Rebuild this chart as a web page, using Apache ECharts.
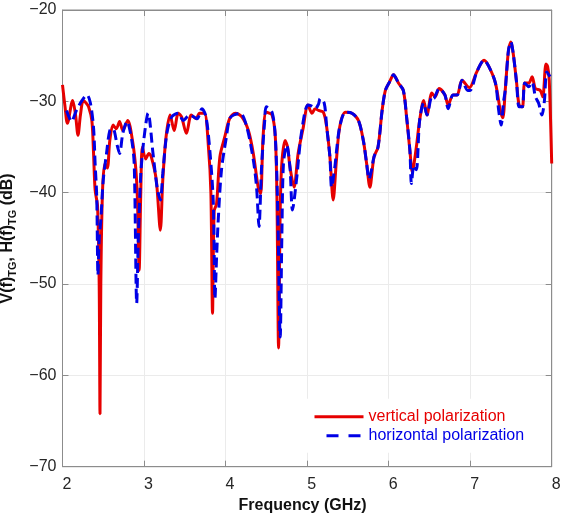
<!DOCTYPE html>
<html>
<head>
<meta charset="utf-8">
<script src="https://cdn.jsdelivr.net/npm/echarts@6/dist/echarts.min.js"></script>
<style>
  html, body { margin: 0; padding: 0; background: #fff; }
  #chart { width: 561px; height: 521px; }
</style>
</head>
<body>
<div id="chart"></div>
<script>
// Frequency response of the target, vertical polarization (GHz, dB)
const vFreq = [2.00, 2.03, 2.06, 2.125, 2.16, 2.19, 2.22, 2.255, 2.29, 2.32, 2.36, 2.38, 2.40, 2.43, 2.45, 2.46, 2.47, 2.49,
  2.52, 2.55, 2.58, 2.62, 2.66, 2.70, 2.74, 2.80, 2.86, 2.90, 2.92, 2.94, 2.96, 2.98, 3.02, 3.06, 3.09, 3.15, 3.20, 3.23,
  3.27, 3.32, 3.37, 3.42, 3.46, 3.52, 3.58, 3.64, 3.68, 3.74, 3.79, 3.82, 3.84, 3.86, 3.89, 3.93, 3.99, 4.05, 4.12, 4.20,
  4.28, 4.34, 4.40, 4.43, 4.46, 4.50, 4.57, 4.61, 4.63, 4.65, 4.67, 4.69, 4.73, 4.76, 4.79, 4.84, 4.89, 4.95, 5.01, 5.06,
  5.10, 5.14, 5.20, 5.24, 5.28, 5.32, 5.36, 5.40, 5.47, 5.55, 5.63, 5.69, 5.73, 5.77, 5.82, 5.87, 5.92, 5.96, 6.01, 6.06,
  6.12, 6.18, 6.22, 6.26, 6.29, 6.34, 6.38, 6.43, 6.47, 6.53, 6.57, 6.62, 6.69, 6.73, 6.79, 6.84, 6.90, 6.99, 7.08, 7.17,
  7.23, 7.31, 7.37, 7.40, 7.43, 7.47, 7.50, 7.53, 7.57, 7.60, 7.64, 7.67, 7.72, 7.76, 7.80, 7.86, 7.89, 7.93, 7.95, 7.97, 8.00];
const vDb = [-28.2, -30.5, -32.4, -29.9, -31.5, -33.7, -31.5, -29.9, -30.2, -30.6, -32.1, -35.5, -39.7, -41.5, -50.0, -64.2, -50.0, -40.0,
  -36.8, -37.3, -34.3, -32.6, -33.0, -32.2, -33.2, -32.1, -34.4, -37.5, -41.0, -48.5, -40.0, -35.0, -36.3, -35.7, -36.1, -38.6, -44.1, -38.6,
  -33.9, -31.5, -33.2, -31.3, -31.7, -33.5, -31.5, -31.9, -31.3, -31.3, -35.0, -40.0, -53.2, -42.0, -41.2, -36.1, -33.9, -31.9, -31.3, -31.7,
  -33.2, -35.7, -39.4, -40.1, -33.9, -31.2, -31.5, -33.9, -40.5, -57.0, -42.0, -36.8, -34.3, -35.0, -37.2, -39.4, -35.7, -33.0, -30.4, -31.3,
  -30.8, -31.0, -31.2, -32.8, -36.1, -40.8, -36.4, -32.8, -31.2, -31.3, -32.1, -34.3, -36.8, -39.4, -36.1, -35.0, -31.0, -28.8, -27.9, -27.1,
  -28.0, -28.8, -31.7, -35.3, -37.7, -35.0, -32.1, -29.9, -31.5, -29.1, -29.5, -28.6, -29.3, -30.4, -29.3, -29.3, -27.7, -28.5, -26.8, -25.5,
  -26.2, -28.0, -31.0, -31.8, -28.8, -24.4, -23.5, -24.9, -28.0, -30.4, -30.6, -28.0, -28.0, -27.3, -28.6, -28.8, -29.5, -25.9, -26.2, -27.7, -36.8];

// Frequency response of the target, horizontal polarization (GHz, dB)
const hFreq = [2.05, 2.07, 2.11, 2.17, 2.24, 2.30, 2.34, 2.38, 2.40, 2.42, 2.435, 2.45, 2.47, 2.50, 2.54, 2.58, 2.62, 2.67,
  2.70, 2.74, 2.79, 2.85, 2.88, 2.91, 2.93, 2.96, 3.00, 3.05, 3.11, 3.16, 3.20, 3.23, 3.28, 3.34, 3.42, 3.48, 3.56, 3.65,
  3.71, 3.76, 3.81, 3.85, 3.87, 3.89, 3.91, 3.95, 4.01, 4.05, 4.10, 4.18, 4.26, 4.34, 4.38, 4.41, 4.44, 4.48, 4.50, 4.57,
  4.61, 4.64, 4.67, 4.69, 4.71, 4.75, 4.79, 4.82, 4.87, 4.93, 5.01, 5.05, 5.10, 5.14, 5.16, 5.21, 5.24, 5.28, 5.30, 5.34,
  5.36, 5.40, 5.47, 5.55, 5.63, 5.69, 5.73, 5.76, 5.79, 5.82, 5.87, 5.92, 5.96, 6.01, 6.06, 6.12, 6.18, 6.22, 6.26, 6.28,
  6.31, 6.34, 6.38, 6.43, 6.47, 6.53, 6.55, 6.62, 6.69, 6.73, 6.79, 6.84, 6.90, 6.97, 7.00, 7.08, 7.17, 7.23, 7.31, 7.35,
  7.38, 7.41, 7.43, 7.47, 7.50, 7.53, 7.57, 7.60, 7.64, 7.67, 7.72, 7.76, 7.80, 7.84, 7.88, 7.91, 7.94, 7.98];
const hDb = [-31.0, -31.5, -32.2, -31.0, -29.9, -29.3, -30.1, -32.8, -36.8, -40.5, -49.0, -45.0, -43.0, -38.6, -35.7, -33.2, -33.0, -34.8,
  -35.7, -33.5, -32.2, -34.3, -37.0, -52.1, -45.0, -38.0, -34.0, -31.3, -35.7, -39.4, -40.8, -37.9, -33.5, -31.7, -31.3, -32.1, -31.5, -31.9,
  -30.8, -31.7, -35.7, -41.2, -51.6, -47.0, -43.0, -37.5, -33.9, -31.9, -31.5, -31.3, -32.8, -36.4, -39.4, -43.7, -37.5, -32.1, -30.6, -31.2,
  -33.9, -42.0, -55.8, -45.0, -36.8, -34.8, -37.2, -41.9, -38.6, -33.5, -30.4, -30.5, -30.8, -30.3, -29.7, -30.2, -32.8, -36.1, -39.4, -37.2,
  -35.5, -32.8, -31.2, -31.3, -32.1, -34.3, -36.8, -38.5, -37.5, -36.1, -35.0, -31.0, -28.8, -27.9, -27.1, -28.0, -28.8, -31.7, -35.3, -39.0,
  -37.0, -37.5, -32.1, -30.2, -31.5, -29.5, -29.7, -28.6, -29.3, -30.8, -29.3, -29.3, -27.7, -28.8, -28.8, -26.8, -25.5, -26.2, -28.0, -31.0,
  -32.6, -30.0, -28.8, -24.4, -23.5, -24.9, -28.0, -30.6, -30.6, -28.0, -28.4, -27.9, -29.5, -30.2, -31.5, -30.0, -26.8, -27.3];

// Axis ranges and tick spacing
const freqRange = [2, 8];
const dbRange = [-70, -20];
const freqStep = 1;
const dbStep = 10;

const seriesNames = ['vertical polarization', 'horizontal polarization'];
const RED = '#e60000';
const BLUE = '#0000e6';
const FONT = '"Liberation Sans", Arial, Helvetica, sans-serif';

const pairs = (xs, ys) => xs.map((x, i) => [x, ys[i]]);
// negative tick values are written with a true minus sign
const minusLabel = v => String(v).replace('-', '\u2212');

const chart = echarts.init(document.getElementById('chart'), null, { renderer: 'canvas' });

const axisGray = '#8c8c8c';
const gridGray = '#ebebeb';

chart.setOption({
  animation: false,
  backgroundColor: '#fff',
  textStyle: { fontFamily: FONT },
  grid: {
    left: 62.5, right: 9.3, top: 10, bottom: 54.3,
    outerBoundsMode: 'none', containLabel: false,
    show: true, borderColor: axisGray, borderWidth: 1, backgroundColor: 'transparent'
  },
  legend: {
    orient: 'vertical',
    left: 303, top: 398.7,
    padding: [10, 24, 9, 10],
    itemGap: 3,
    itemWidth: 49, itemHeight: 14,
    backgroundColor: '#fff',
    itemStyle: { opacity: 0 },
    textStyle: { fontSize: 16, fontFamily: FONT },
    data: [
      { name: seriesNames[0], textStyle: { color: RED },
        lineStyle: { color: RED, width: 3, type: 'solid' } },
      { name: seriesNames[1], textStyle: { color: BLUE },
        lineStyle: { color: BLUE, width: 3, type: [0, 12, 12, 10, 12, 3] } }
    ]
  },
  xAxis: [{
    type: 'value', min: freqRange[0], max: freqRange[1], interval: freqStep,
    name: 'Frequency (GHz)', nameLocation: 'middle', nameGap: 30,
    nameTextStyle: { fontSize: 16, fontWeight: 'bold', color: '#111', padding: [0, 9, 0, 0] },
    axisLine: { lineStyle: { color: axisGray } },
    axisTick: { inside: true, length: 6, lineStyle: { color: axisGray } },
    axisLabel: { fontSize: 16, color: '#262626', margin: 10, padding: [0, 0, 0, 9] },
    splitLine: { show: true, lineStyle: { color: gridGray } }
  }, {
    type: 'value', position: 'top', min: freqRange[0], max: freqRange[1], interval: freqStep,
    axisLine: { show: true, lineStyle: { color: axisGray } },
    axisTick: { inside: true, length: 6, lineStyle: { color: axisGray } },
    axisLabel: { show: false }, splitLine: { show: false }
  }],
  yAxis: [{
    type: 'value', min: dbRange[0], max: dbRange[1], interval: dbStep,
    name: '{m|V(f)}{s|TG}{m|, H(f)}{s|TG}{m| (dB)}',
    nameLocation: 'middle', nameRotate: 90, nameGap: 38,
    nameTextStyle: {
      rich: {
        m: { fontSize: 16, fontWeight: 'bold', color: '#111', lineHeight: 22, fontFamily: FONT },
        s: { fontSize: 11, fontWeight: 'bold', color: '#111', lineHeight: 10, verticalAlign: 'bottom', fontFamily: FONT }
      }
    },
    axisLine: { show: true, lineStyle: { color: axisGray } },
    axisTick: { inside: true, length: 6, lineStyle: { color: axisGray } },
    axisLabel: { fontSize: 16, color: '#262626', margin: 6, formatter: minusLabel },
    splitLine: { show: true, lineStyle: { color: gridGray } }
  }, {
    type: 'value', position: 'right', min: dbRange[0], max: dbRange[1], interval: dbStep,
    axisLine: { show: true, lineStyle: { color: axisGray } },
    axisTick: { inside: true, length: 6, lineStyle: { color: axisGray } },
    axisLabel: { show: false }, splitLine: { show: false }
  }],
  series: [{
    name: seriesNames[0], type: 'line',
    data: pairs(vFreq, vDb),
    showSymbol: false, symbol: 'none', smooth: 0.3,
    lineStyle: { color: RED, width: 3 },
    itemStyle: { color: RED },
    z: 2
  }, {
    name: seriesNames[1], type: 'line',
    data: pairs(hFreq, hDb),
    showSymbol: false, symbol: 'none', smooth: 0.3,
    lineStyle: { color: BLUE, width: 3, type: [10, 5] },
    itemStyle: { color: BLUE },
    z: 3
  }]
});
</script>
</body>
</html>
